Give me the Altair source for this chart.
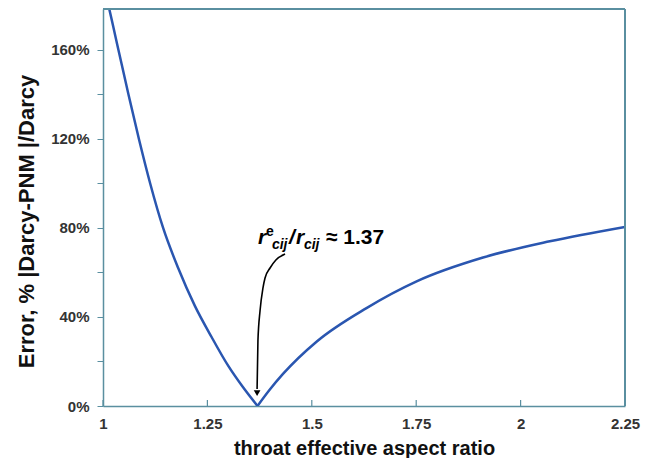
import altair as alt
import pandas as pd

# Left branch (decreasing) of error curve
left_x = [1.000, 1.013, 1.037, 1.061, 1.086, 1.113, 1.144, 1.180, 1.220, 1.260, 1.300, 1.335, 1.370]
left_y = [190, 180, 160, 140, 120, 100, 80, 62, 45, 31, 18, 8.5, 0]
# Right branch (increasing)
right_x = [1.370, 1.400, 1.431, 1.512, 1.631, 1.751, 1.910, 2.070, 2.250]
right_y = [0, 7.5, 14.4, 29, 44, 56, 66.7, 74, 80.5]

# annotation arrow path (data units)
arrow_x = [1.436, 1.414, 1.400, 1.388, 1.383, 1.376, 1.371, 1.369]
arrow_y = [68.3, 65.6, 62.0, 57.5, 53.0, 42.7, 29.2, 7.6]
arrow_tip = (1.369, 5.8)
ann_anchor = (1.371, 72.8)

x_ticks = [1, 1.25, 1.5, 1.75, 2, 2.25]
y_ticks = list(range(0, 180, 10))
x_domain = [1, 2.25]
y_domain = [0, 178.4]

FRAME = "#5a8fa0"
LINE = "#2a56b0"
FONT = "Liberation Sans"

curve = pd.DataFrame({
    "x": left_x + right_x,
    "y": left_y + right_y,
    "branch": ["L"] * len(left_x) + ["R"] * len(right_x),
    "order": list(range(len(left_x))) + list(range(len(right_x))),
})
arrow = pd.DataFrame({"x": arrow_x, "y": arrow_y, "order": list(range(len(arrow_x)))})
tip = pd.DataFrame({"x": [arrow_tip[0]], "y": [arrow_tip[1]]})
anchor = pd.DataFrame({"x": [ann_anchor[0]], "y": [ann_anchor[1]]})
ticks_df = pd.DataFrame({"x": x_ticks})
top_df = pd.DataFrame({"x": [x_domain[0]], "x2": [x_domain[1]], "y": [y_domain[1]]})
right_df = pd.DataFrame({"x": [x_domain[1]], "y": [y_domain[0]], "y2": [y_domain[1]]})

xs = alt.Scale(domain=x_domain, nice=False, zero=False)
ys = alt.Scale(domain=y_domain, nice=False)

x_axis = alt.Axis(
    values=x_ticks, labelExpr="'' + datum.value", title="throat effective aspect ratio",
    ticks=False, grid=False, domainColor=FRAME, domainWidth=1.5, labelFlush=False,
    labelFont=FONT, labelFontSize=15, labelFontWeight="bold", labelColor="#333333",
    labelPadding=10, titleFont=FONT, titleFontSize=20, titleFontWeight="bold",
    titleColor="#111111", titlePadding=7,
)
y_axis = alt.Axis(
    values=y_ticks, labelExpr="datum.value % 40 === 0 ? datum.value + '%' : ''",
    title="Error, % |Darcy-PNM |/Darcy", grid=False, tickSize=6, tickColor=FRAME,
    domainColor=FRAME, domainWidth=1.5, labelFont=FONT, labelFontSize=15, labelFlush=False,
    labelFontWeight="bold", labelColor="#333333", labelPadding=8,
    titleFont=FONT, titleFontSize=22, titleFontWeight="bold", titleColor="#111111",
    titlePadding=12, titleY=212,
)

line = alt.Chart(curve).mark_line(color=LINE, strokeWidth=2.5, clip=True, interpolate="monotone").encode(
    x=alt.X("x:Q", scale=xs, axis=x_axis),
    y=alt.Y("y:Q", scale=ys, axis=y_axis),
    detail="branch:N",
    order="order:Q",
)

top_edge = alt.Chart(top_df).mark_rule(color=FRAME, strokeWidth=2).encode(
    x=alt.X("x:Q", scale=xs), x2="x2:Q", y=alt.Y("y:Q", scale=ys)
)
right_edge = alt.Chart(right_df).mark_rule(color=FRAME, strokeWidth=2).encode(
    x=alt.X("x:Q", scale=xs), y=alt.Y("y:Q", scale=ys), y2="y2:Q"
)

xticks = alt.Chart(ticks_df).mark_rule(color=FRAME, strokeWidth=1.2).encode(
    x=alt.X("x:Q", scale=xs), y=alt.value(397), y2=alt.value(391)
)

arrow_line = alt.Chart(arrow).mark_line(color="black", strokeWidth=1.6, interpolate="monotone").encode(
    x=alt.X("x:Q", scale=xs), y=alt.Y("y:Q", scale=ys), order="order:Q"
)
arrow_head = alt.Chart(tip).mark_point(shape="triangle-down", filled=True, color="black", size=45, opacity=1).encode(
    x=alt.X("x:Q", scale=xs), y=alt.Y("y:Q", scale=ys)
)

pieces = [
    ("r", 0, 0, 21, "italic"),
    ("e", 8, -8, 14, "normal"),
    ("cij", 14, 5, 14, "italic"),
    ("/", 31, 0, 21, "italic"),
    ("r", 38, 0, 21, "italic"),
    ("cij", 46, 5, 14, "italic"),
    ("\u2248 1.37", 68, 0, 21, "normal"),
]
texts = []
for txt, dx, dy, size, style in pieces:
    texts.append(
        alt.Chart(anchor).mark_text(
            text=txt, align="left", baseline="alphabetic", dx=dx, dy=dy, fontSize=size,
            fontStyle=style, fontWeight="bold", font=FONT, color="black",
        ).encode(x=alt.X("x:Q", scale=xs), y=alt.Y("y:Q", scale=ys))
    )

chart = alt.layer(line, top_edge, right_edge, xticks, arrow_line, arrow_head, *texts).properties(
    width=522, height=397,
    background="white",
    autosize=alt.AutoSizeParams(type="none"),
    padding={"left": 95, "top": 1, "right": 28, "bottom": 52},
).configure_view(stroke=None)

chart.save("out.html", embed_options={"renderer": "svg", "actions": False})
